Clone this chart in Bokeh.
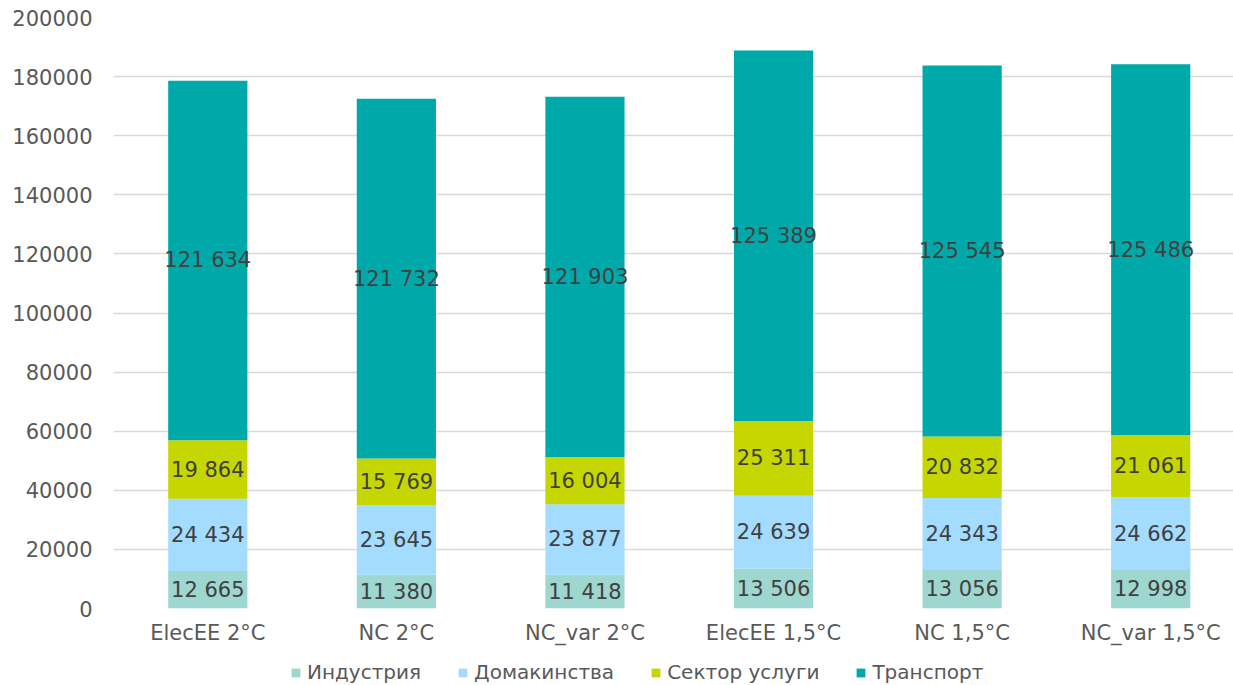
from bokeh.plotting import figure
from bokeh.models import ColumnDataSource, Range1d, FixedTicker, BasicTickFormatter, Legend, LegendItem
from bokeh.layouts import column
from bokeh.core.properties import value
from bokeh.embed import file_html
from bokeh.resources import INLINE

categories = ["ElecEE 2°C", "NC 2°C", "NC_var 2°C", "ElecEE 1,5°C", "NC 1,5°C", "NC_var 1,5°C"]
series_names = ["Индустрия", "Домакинства", "Сектор услуги", "Транспорт"]
industry = [12665, 11380, 11418, 13506, 13056, 12998]
households = [24434, 23645, 23877, 24639, 24343, 24662]
services = [19864, 15769, 16004, 25311, 20832, 21061]
transport = [121634, 121732, 121903, 125389, 125545, 125486]
y_ticks = [0, 20000, 40000, 60000, 80000, 100000, 120000, 140000, 160000, 180000, 200000]
colors = ["#9ed6d0", "#a3dcff", "#c5d600", "#00a9a9"]

FONT = "DejaVu Sans"
series = [industry, households, services, transport]
keys = ["s0", "s1", "s2", "s3"]
xs = [i + 0.5 for i in range(len(categories))]

data = {"x": xs}
for k, s in zip(keys, series):
    data[k] = s
source = ColumnDataSource(data)

p = figure(width=1233, height=660, output_backend="svg", toolbar_location=None,
           x_range=Range1d(0, 5.939), y_range=Range1d(0, 200000),
           min_border_left=113, min_border_right=0, min_border_top=17, min_border_bottom=52)
p.outline_line_color = None
p.background_fill_color = "white"

renderers = p.vbar_stack(keys, x="x", width=0.42, color=colors, line_color=None, source=source)

# labels
lx, ly, lt = [], [], []
for i in range(len(categories)):
    base = 0
    for s in series:
        v = s[i]
        lx.append(xs[i])
        ly.append(base + v / 2)
        lt.append(f"{v:,}".replace(",", " "))
        base += v
p.text(x=lx, y=ly, text=lt, text_align="center", text_baseline="middle",
       text_font=value(FONT), text_font_size="21px", text_color="#404040")

# axes
p.xaxis.ticker = FixedTicker(ticks=xs)
p.xaxis.major_label_overrides = {x: c for x, c in zip(xs, categories)}
p.xaxis.axis_line_color = None
p.xaxis.major_tick_line_color = None
p.xaxis.minor_tick_line_color = None
p.xaxis.major_tick_out = 0
p.xaxis.major_label_standoff = 12
p.xaxis.major_label_text_font = FONT
p.xaxis.major_label_text_font_size = "21px"
p.xaxis.major_label_text_color = "#595959"

p.yaxis.ticker = FixedTicker(ticks=y_ticks)
p.yaxis.formatter = BasicTickFormatter(use_scientific=False)
p.yaxis.axis_line_color = None
p.yaxis.major_tick_line_color = None
p.yaxis.minor_tick_line_color = None
p.yaxis.major_tick_out = 0
p.yaxis.major_label_standoff = 21
p.yaxis.major_label_text_font = FONT
p.yaxis.major_label_text_font_size = "21px"
p.yaxis.major_label_text_color = "#595959"

p.xgrid.grid_line_color = None
p.ygrid.grid_line_color = "#d9d9d9"
p.ygrid.grid_line_width = 1.5
p.ygrid.ticker = FixedTicker(ticks=y_ticks)

# legend strip: the same stacked series, with ranges that keep the bars out of view
lg = figure(width=1233, height=24, output_backend="svg", toolbar_location=None,
            x_range=Range1d(-101, -100), y_range=Range1d(-2, -1),
            x_axis_location=None, y_axis_location=None,
            min_border_left=0, min_border_right=0, min_border_top=0, min_border_bottom=0)
lg.outline_line_color = None
lg.grid.visible = False
lg_renderers = lg.vbar_stack(keys, x="x", width=0.42, color=colors, line_color=None, source=source)
legend = Legend(items=[LegendItem(label=n, renderers=[r]) for n, r in zip(series_names, lg_renderers)],
                orientation="horizontal", location=(177, 0), padding=0, margin=0,
                border_line_color=None, background_fill_alpha=0,
                glyph_width=11, glyph_height=11, label_standoff=6, spacing=36,
                label_text_font=FONT, label_text_font_size="20px", label_text_color="#595959")
lg.add_layout(legend)

layout = column(p, lg, spacing=0)
open("out.html", "w").write(file_html(layout, INLINE))
